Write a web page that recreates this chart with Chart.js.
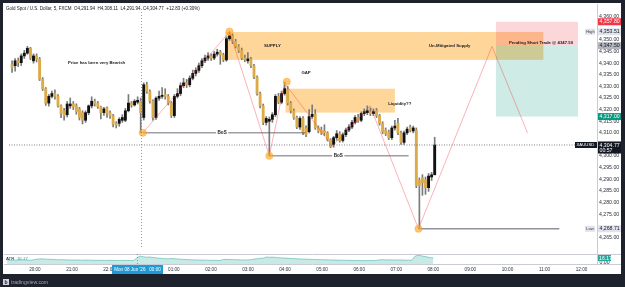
<!DOCTYPE html>
<html>
<head>
<meta charset="utf-8">
<title>Gold Spot / U.S. Dollar, 5</title>
<script src="https://cdn.jsdelivr.net/npm/chart.js@4.4.1/dist/chart.umd.min.js"></script>
<style>
  html, body { margin: 0; padding: 0; }
  body { width: 625px; height: 287px; background: #1e222d; position: relative; overflow: hidden; }
  #panel { position: absolute; left: 3px; top: 3px; width: 618px; height: 271px; background: #fff; }
  canvas { position: absolute; }
  #main { left: 4px; top: 4px; }
  #atr { left: 4px; top: 254px; }
  #footer { left: 0; top: 274px; }
</style>
</head>
<body>
<div id="panel"></div>
<canvas id="main" width="617" height="250"></canvas>
<canvas id="atr" width="617" height="20"></canvas>
<canvas id="footer" width="625" height="13"></canvas>
<script>
// 5 minute candles, one slot per bar (slot 0 = first bar on screen)
const openPrices = [
  4339.3, 4338.9, 4341.0, 4340.2, 4343.1, 4344.3, 4346.4, 4341.0, 4343.1, 4341.8,
  4333.1, 4329.0, 4322.8, 4325.7, 4326.9, 4325.7, 4321.6, 4319.5, 4317.8, 4321.6,
  4322.4, 4321.6, 4320.3, 4318.7, 4315.4, 4318.7, 4321.6, 4323.6, 4322.8, 4321.2,
  4318.7, 4320.7, 4318.7, 4317.4, 4314.1, 4314.1, 4315.4, 4315.4, 4319.5, 4322.8,
  4322.0, 4323.2, 4323.6, 4316.6, 4330.7, 4327.8, 4323.6, 4316.6, 4324.9, 4325.7,
  4326.5, 4325.7, 4322.8, 4317.4, 4325.7, 4326.9, 4330.3, 4331.5, 4330.7, 4333.5,
  4335.6, 4336.9, 4338.9, 4341.0, 4342.2, 4343.1, 4342.2, 4343.9, 4344.7, 4343.5,
  4341.4, 4350.5, 4351.7, 4349.3, 4347.2, 4345.5, 4342.2, 4341.0, 4341.8, 4338.9,
  4334.0, 4326.9, 4321.6, 4314.5, 4315.0, 4315.8, 4317.8, 4325.7, 4323.2, 4326.9,
  4328.6, 4322.8, 4319.5, 4316.6, 4312.5, 4316.2, 4312.1, 4310.5, 4317.0, 4318.0,
  4312.1, 4311.2, 4310.8, 4310.0, 4307.1, 4305.0, 4307.9, 4309.6, 4306.7, 4309.2,
  4311.2, 4312.5, 4314.5, 4316.6, 4315.4, 4318.3, 4318.7, 4319.1, 4318.3, 4319.5,
  4317.4, 4314.1, 4311.2, 4310.4, 4307.9, 4312.1, 4314.1, 4310.0, 4305.9, 4310.0,
  4312.5, 4310.8, 4311.2, 4289.5, 4290.6, 4289.8, 4286.4, 4291.0, 4291.94
];
const highPrices = [
  4341.0, 4342.0, 4342.2, 4344.0, 4345.5, 4347.2, 4346.8, 4344.0, 4344.0, 4342.5,
  4333.8, 4329.5, 4326.5, 4328.0, 4328.5, 4326.5, 4322.0, 4320.5, 4323.5, 4325.0,
  4323.5, 4322.5, 4321.0, 4319.5, 4319.5, 4322.0, 4325.5, 4324.5, 4323.5, 4321.5,
  4321.0, 4321.2, 4319.5, 4318.0, 4314.8, 4316.5, 4317.8, 4320.5, 4326.5, 4323.5,
  4324.3, 4325.5, 4325.0, 4331.5, 4331.8, 4328.5, 4324.2, 4325.5, 4328.0, 4329.5,
  4329.0, 4326.5, 4323.5, 4326.5, 4329.0, 4331.5, 4333.5, 4333.0, 4334.5, 4337.0,
  4338.0, 4340.0, 4342.0, 4343.5, 4344.5, 4344.0, 4345.0, 4346.0, 4345.5, 4344.3,
  4351.3, 4353.51, 4352.6, 4350.3, 4348.0, 4346.5, 4343.5, 4344.5, 4342.5, 4339.5,
  4334.5, 4327.5, 4322.4, 4317.0, 4316.8, 4318.7, 4326.5, 4327.0, 4328.0, 4331.9,
  4330.0, 4323.5, 4320.3, 4317.2, 4317.0, 4317.0, 4313.0, 4320.0, 4322.0, 4320.0,
  4313.0, 4312.5, 4313.5, 4310.5, 4307.5, 4308.5, 4311.0, 4310.5, 4310.0, 4312.0,
  4313.5, 4315.4, 4317.4, 4318.0, 4319.0, 4320.3, 4321.6, 4320.7, 4320.3, 4320.5,
  4318.0, 4314.8, 4312.1, 4311.2, 4312.9, 4315.4, 4316.2, 4310.8, 4310.8, 4312.5,
  4313.3, 4312.9, 4312.1, 4290.6, 4292.0, 4291.0, 4292.5, 4293.0, 4308.11
];
const lowPrices = [
  4336.0, 4336.5, 4338.5, 4339.0, 4342.0, 4343.8, 4341.5, 4340.0, 4340.5, 4332.5,
  4328.2, 4321.8, 4321.5, 4325.0, 4324.5, 4321.0, 4316.5, 4315.5, 4316.8, 4320.5,
  4320.0, 4318.0, 4315.5, 4313.8, 4314.5, 4317.8, 4320.7, 4321.5, 4320.5, 4316.0,
  4317.5, 4316.6, 4316.2, 4312.5, 4312.1, 4312.8, 4314.5, 4314.8, 4319.0, 4321.0,
  4321.5, 4322.4, 4310.0, 4315.5, 4327.0, 4322.8, 4315.5, 4315.8, 4324.0, 4324.8,
  4324.5, 4322.0, 4316.6, 4316.6, 4325.0, 4326.0, 4329.5, 4329.5, 4329.8, 4332.8,
  4334.5, 4336.0, 4338.0, 4340.2, 4341.2, 4341.2, 4341.5, 4343.0, 4339.5, 4340.6,
  4340.8, 4349.8, 4348.4, 4346.5, 4344.5, 4341.5, 4340.6, 4340.0, 4338.0, 4333.3,
  4326.2, 4320.7, 4313.5, 4313.3, 4300.1, 4314.5, 4317.0, 4322.5, 4322.5, 4326.2,
  4322.0, 4318.5, 4315.8, 4311.8, 4311.5, 4309.2, 4308.4, 4310.0, 4316.2, 4311.5,
  4310.0, 4309.2, 4308.8, 4306.5, 4303.6, 4303.8, 4306.8, 4306.0, 4306.0, 4308.4,
  4310.5, 4311.8, 4313.8, 4314.5, 4314.8, 4317.4, 4317.8, 4317.4, 4317.4, 4316.6,
  4313.3, 4309.6, 4308.8, 4307.1, 4307.1, 4311.2, 4309.2, 4305.0, 4305.0, 4309.2,
  4310.4, 4310.0, 4286.4, 4268.71, 4283.1, 4283.5, 4284.8, 4289.5, 4291.94
];
const closePrices = [
  4338.1, 4341.0, 4340.2, 4343.1, 4344.3, 4346.4, 4342.2, 4343.1, 4341.8, 4333.1,
  4329.0, 4322.8, 4325.7, 4326.9, 4325.7, 4321.6, 4318.3, 4317.4, 4322.4, 4322.4,
  4321.2, 4319.1, 4316.6, 4315.4, 4318.7, 4321.6, 4323.6, 4322.4, 4321.2, 4318.7,
  4320.3, 4318.3, 4317.4, 4313.7, 4313.3, 4315.8, 4316.6, 4319.5, 4322.8, 4322.0,
  4323.6, 4324.0, 4318.7, 4330.7, 4327.8, 4323.6, 4316.6, 4324.9, 4325.7, 4326.1,
  4325.7, 4322.8, 4317.4, 4325.7, 4326.9, 4330.3, 4331.5, 4330.7, 4333.5, 4335.6,
  4336.9, 4338.9, 4341.0, 4342.2, 4343.1, 4342.2, 4343.9, 4344.7, 4343.5, 4341.4,
  4350.5, 4351.7, 4349.3, 4347.2, 4345.5, 4342.2, 4341.4, 4341.8, 4338.9, 4334.0,
  4326.9, 4321.6, 4314.5, 4316.2, 4315.8, 4317.8, 4325.7, 4323.2, 4326.9, 4329.0,
  4322.8, 4319.5, 4316.6, 4312.5, 4316.2, 4310.0, 4309.2, 4317.0, 4318.0, 4312.1,
  4310.8, 4310.0, 4310.0, 4307.1, 4304.2, 4307.9, 4309.6, 4306.7, 4309.2, 4311.2,
  4312.5, 4314.5, 4316.6, 4315.4, 4318.3, 4319.1, 4319.5, 4318.3, 4319.1, 4317.4,
  4314.1, 4310.4, 4309.6, 4307.9, 4312.1, 4312.9, 4310.0, 4305.9, 4310.0, 4311.6,
  4311.2, 4312.1, 4287.3, 4287.3, 4288.5, 4286.4, 4291.4, 4291.94, 4304.77
];
// ATR pane
const atrValues = [
  10.8, 10.5, 10.2, 10.6, 10.9, 11.3, 11.0, 10.6, 10.3,
  12.4, 13.2, 13.9, 13.5,
  13.0, 12.6, 12.2, 11.8, 11.4, 11.6, 11.2, 10.9, 10.6, 10.9,
  10.7, 10.3, 10.5, 10.8, 10.4, 10.0, 9.8, 10.1, 9.9, 9.6,
  10.0, 9.8, 9.5, 9.3, 9.6, 9.9, 9.5, 9.3, 9.7,
  16.5, 21.5, 19.8, 18.4, 19.0, 17.9, 16.8, 15.9, 15.0,
  14.4, 13.8, 15.0, 14.3, 13.6, 13.0, 12.5, 12.0, 11.6, 11.3,
  11.0, 10.8, 10.6, 10.4, 10.2, 10.0, 9.9, 9.8, 9.6,
  12.0, 12.6, 12.2, 11.9, 11.6, 11.4, 11.1, 10.9, 11.0, 11.8,
  13.2, 14.4, 15.4, 15.8,
  19.0, 18.0, 18.6, 17.6, 17.0, 16.5, 16.0,
  15.4, 14.9, 14.4, 14.0, 13.7, 13.3, 13.0, 12.6, 12.4, 12.1,
  11.8, 11.5, 11.3, 11.1, 10.9, 10.7, 10.5, 10.3, 10.1, 10.0,
  9.8, 9.7, 9.6, 9.4, 9.3, 9.2, 9.3, 9.4, 9.6, 10.2,
  11.8, 11.3, 11.0, 11.2, 10.9, 10.7, 11.0, 10.8, 10.5, 10.3, 10.1,
  20.5, 24.0, 22.4, 20.6, 19.0, 17.5, 16.17
];

// time axis
const hourSlots = [9, 21, 33, 54, 66, 78, 90, 102, 114, 126, 138, 150, 162, 174, 186];
const hourLabels = ['20:00', '21:00', '22:00', '01:00', '02:00', '03:00', '04:00', '05:00',
  '06:00', '07:00', '08:00', '09:00', '10:00', '11:00', '12:00'];
const crosshairSlot = 42;
const crosshairLabel = "Mon 08 Jun '26   00:00";

// price axis
const priceTicks = [4360, 4350, 4345, 4340, 4335, 4330, 4325, 4320, 4315, 4310,
  4300, 4295, 4290, 4285, 4280, 4275, 4265];
const axisTagPrices = [4357.80, 4353.51, 4347.50, 4317.00, 4304.77, 4268.71];
const countdown = '00:57';

// drawings (slot, price)
const swingSlots = [42.7, 71, 84, 89, 104.6, 116.9, 132.7, 156.7, 168.3];
const swingPrices = [4310.0, 4353.51, 4300.1, 4331.4, 4304.2, 4321.6, 4268.71, 4347.2, 4310.0];
const dotSlots = [42.7, 71, 84, 89.7, 132.7];
const dotPrices = [4310.0, 4353.6, 4300.1, 4332.0, 4268.71];
const bosFrom = [42.7, 84];
const bosTo = [95.8, 129.5];
const bosPrices = [4310.0, 4300.1];
const bosLabelSlots = [68.6, 106.5];
const lowLine = [132.7, 178.7];
const supplyZone = [69.6, 173.5, 4341.4, 4353.4];
const liquidityZone = [89.3, 125.0, 4318.7, 4329.0];
const positionSlots = [158, 184.8];
const entryPrice = 4347.50, stopPrice = 4357.80, targetPrice = 4317.00;
const noteTexts = ['Price has been very Bearish', 'SUPPLY', 'GAP', 'Liquidity??',
  'Un-Mitigated Supply', 'Pending Short Trade @ 4347.50'];
const noteSlots = [27.6, 85.0, 96.0, 126.6, 142.9, 172.7];
const notePrices = [4340.2, 4347.3, 4336.0, 4322.3, 4347.3, 4348.8];

const FONT = '"Liberation Sans", Arial, sans-serif';
Chart.defaults.font.family = FONT;
const fmt = v => v.toLocaleString('en-US', { minimumFractionDigits: 2, maximumFractionDigits: 2 });
const last = closePrices.length - 1;

const tagFill = ['#f23645', '#e0e3eb', '#b2b5be', '#089981', '#131722', '#e0e3eb'];
const tagInk = ['#ffffff', '#131722', '#131722', '#ffffff', '#ffffff', '#131722'];

function fillZone(chart, z, color) {
  const { x, y } = chart.scales;
  const l = x.getPixelForValue(z[0]), r = x.getPixelForValue(z[1]);
  const t = y.getPixelForValue(z[3]), b = y.getPixelForValue(z[2]);
  chart.ctx.fillStyle = color;
  chart.ctx.fillRect(l, t, r - l, b - t);
}

const mainOverlay = {
  id: 'mainOverlay',
  beforeDatasetsDraw(chart) {
    const { ctx, chartArea: a } = chart;
    ctx.save();
    ctx.beginPath();
    ctx.rect(a.left, a.top, a.right - a.left, a.bottom - a.top);
    ctx.clip();
    fillZone(chart, supplyZone, 'rgba(255,152,0,0.4)');
    fillZone(chart, liquidityZone, 'rgba(255,152,0,0.4)');
    fillZone(chart, [positionSlots[0], positionSlots[1], entryPrice, stopPrice], 'rgba(242,54,69,0.2)');
    fillZone(chart, [positionSlots[0], positionSlots[1], targetPrice, entryPrice], 'rgba(8,153,129,0.2)');
    ctx.restore();
  },
  afterDatasetsDraw(chart) {
    const { ctx, scales: { x, y } } = chart;
    ctx.save();
    ctx.textAlign = 'center';
    ctx.textBaseline = 'middle';
    ctx.font = 'bold 4.3px ' + FONT;
    ctx.fillStyle = '#1a1a1a';
    noteTexts.forEach((t, i) => {
      ctx.fillText(t, x.getPixelForValue(noteSlots[i]), y.getPixelForValue(notePrices[i]));
    });
    // BoS labels sit on their lines
    ctx.font = 'bold 4.6px ' + FONT;
    bosLabelSlots.forEach((s, i) => {
      const px = x.getPixelForValue(s), py = y.getPixelForValue(bosPrices[i]);
      const w = ctx.measureText('BoS').width + 3;
      ctx.fillStyle = '#ffffff';
      ctx.fillRect(px - w / 2, py - 3, w, 6);
      ctx.fillStyle = '#1a1a1a';
      ctx.fillText('BoS', px, py);
    });
    ctx.restore();
  },
  afterDraw(chart) {
    const { ctx, chartArea: a, scales: { x, y } } = chart;
    ctx.save();
    // crosshair
    const cx = Math.round(x.getPixelForValue(crosshairSlot)) + 0.5;
    ctx.strokeStyle = 'rgba(38,166,154,0.8)';
    ctx.lineWidth = 1;
    ctx.setLineDash([1, 2]);
    ctx.beginPath(); ctx.moveTo(cx, a.top); ctx.lineTo(cx, a.bottom); ctx.stroke();
    ctx.setLineDash([]);
    // price scale divider
    ctx.strokeStyle = '#c9ccd3';
    ctx.beginPath(); ctx.moveTo(a.right + 0.5, 0); ctx.lineTo(a.right + 0.5, chart.height); ctx.stroke();
    // legend line
    const chg = closePrices[last] - closePrices[last - 1];
    const title = 'Gold Spot / U.S. Dollar, 5, FXCM  O' + fmt(openPrices[last]) + '  H' + fmt(highPrices[last]) +
      '  L' + fmt(lowPrices[last]) + '  C' + fmt(closePrices[last]) + '  +' + chg.toFixed(2) +
      ' (+' + (chg / closePrices[last - 1] * 100).toFixed(2) + '%)';
    ctx.font = '4.5px ' + FONT;
    ctx.textAlign = 'left';
    ctx.textBaseline = 'middle';
    ctx.fillStyle = '#131722';
    ctx.fillText(title, 2, 4.5);
    // price tags
    ctx.font = '5.2px ' + FONT;
    axisTagPrices.forEach((p, i) => {
      const ty = y.getPixelForValue(p);
      const h = i === 4 ? 12 : 7;
      ctx.fillStyle = tagFill[i];
      ctx.fillRect(a.right + 1, ty - 3.5, 23, h);
      ctx.fillStyle = tagInk[i];
      ctx.fillText(fmt(p), a.right + 2.5, ty + 0.2);
      if (i === 4) ctx.fillText(countdown, a.right + 2.5, ty + 5.4);
    });
    // side labels
    ctx.font = '4.3px ' + FONT;
    [[1, 'High'], [5, 'Low']].forEach(([i, t]) => {
      const ty = y.getPixelForValue(axisTagPrices[i]);
      ctx.fillStyle = '#e0e3eb';
      ctx.fillRect(a.right - 12, ty - 3, 10, 6);
      ctx.fillStyle = '#434651';
      ctx.fillText(t, a.right - 11, ty + 0.2);
    });
    const sy = y.getPixelForValue(closePrices[last]);
    ctx.fillStyle = '#131722';
    ctx.fillRect(a.right - 22, sy - 3, 22, 6);
    ctx.fillStyle = '#ffffff';
    ctx.fillText('XAUUSD', a.right - 20.5, sy + 0.2);
    ctx.restore();
  }
};

const candleColors = closePrices.map((c, i) => c >= openPrices[i] ? '#111111' : '#dcaa46');
const lineSet = (pts, color, width, extra) => Object.assign({
  type: 'line', data: pts, borderColor: color, borderWidth: width,
  pointRadius: 0, tension: 0, fill: false
}, extra || {});

const mainDatasets = [
  { type: 'bar', data: lowPrices.map((l, i) => ({ x: i, y: [l, highPrices[i]] })),
    backgroundColor: '#7a7a7a', barThickness: 1, grouped: false, order: 6 },
  { type: 'bar', data: openPrices.map((o, i) => ({ x: i, y: [o, closePrices[i]] })),
    backgroundColor: candleColors, barThickness: 2.2, minBarLength: 1, grouped: false, order: 5 },
  lineSet([{ x: -1, y: closePrices[last] }, { x: 191, y: closePrices[last] }], '#5d606b', 0.8,
    { borderDash: [1, 1.5], order: 4 }),
  lineSet([{ x: lowLine[0], y: lowPrices[133] }, { x: lowLine[1], y: lowPrices[133] }], '#8f929b', 1.6, { order: 3 }),
  lineSet(swingSlots.map((s, i) => ({ x: s, y: swingPrices[i] })), 'rgba(242,54,69,0.55)', 0.7, { order: 1 }),
  lineSet(dotSlots.map((s, i) => ({ x: s, y: dotPrices[i] })), 'rgba(0,0,0,0)', 0,
    { showLine: false, pointRadius: 3.6, pointBackgroundColor: 'rgba(255,167,38,0.65)',
      pointBorderColor: 'rgba(255,152,0,0.35)', pointBorderWidth: 1, order: 0 })
];
bosFrom.forEach((f, i) => {
  mainDatasets.push(lineSet([{ x: f, y: bosPrices[i] }, { x: bosTo[i], y: bosPrices[i] }], '#5d606b', 0.9, { order: 2 }));
});

const common = {
  responsive: false,
  devicePixelRatio: 1,
  animation: false,
  events: [],
  layout: { padding: 0 },
  plugins: { legend: { display: false }, tooltip: { enabled: false } }
};

new Chart(document.getElementById('main'), {
  type: 'bar',
  data: { datasets: mainDatasets },
  options: Object.assign({}, common, {
    scales: {
      x: { type: 'linear', min: -1, max: 191, offset: false, display: false },
      y: {
        position: 'right', min: 4260, max: 4363.3,
        afterBuildTicks: s => { s.ticks = priceTicks.map(v => ({ value: v })); },
        afterFit: s => { s.width = 24; s.paddingTop = 0; s.paddingBottom = 0; },
        grid: { display: false, drawTicks: false },
        border: { display: false },
        ticks: { padding: 2, color: '#2a2e39', font: { size: 5.2 }, callback: v => fmt(v) }
      }
    }
  }),
  plugins: [mainOverlay]
});

const atrOverlay = {
  id: 'atrOverlay',
  afterDraw(chart) {
    const { ctx, chartArea: a, scales: { x, y } } = chart;
    ctx.save();
    ctx.strokeStyle = '#c9ccd3';
    ctx.lineWidth = 1;
    ctx.beginPath();
    ctx.moveTo(0, 0.5); ctx.lineTo(chart.width, 0.5);
    ctx.moveTo(0, a.bottom + 0.5); ctx.lineTo(chart.width, a.bottom + 0.5);
    ctx.moveTo(a.right + 0.5, 0); ctx.lineTo(a.right + 0.5, a.bottom);
    ctx.stroke();
    const cx = Math.round(x.getPixelForValue(crosshairSlot)) + 0.5;
    ctx.strokeStyle = 'rgba(38,166,154,0.8)';
    ctx.setLineDash([1, 2]);
    ctx.beginPath(); ctx.moveTo(cx, 0); ctx.lineTo(cx, a.bottom); ctx.stroke();
    ctx.setLineDash([]);
    // legend
    const atrLast = atrValues[atrValues.length - 1];
    ctx.font = '4.4px ' + FONT;
    ctx.textBaseline = 'middle';
    ctx.textAlign = 'left';
    ctx.fillStyle = '#131722';
    ctx.fillText('ATR', 2, 5);
    ctx.fillStyle = '#26a69a';
    ctx.fillText(atrLast.toFixed(2), 2 + ctx.measureText('ATR  ').width, 5);
    // scale
    ctx.font = '5.2px ' + FONT;
    ctx.fillStyle = '#2a2e39';
    ctx.fillText('0.00', a.right + 2.5, a.bottom - 1);
    const ty = y.getPixelForValue(atrLast);
    ctx.fillStyle = '#26a69a';
    ctx.fillRect(a.right + 1, ty - 3, 13, 6);
    ctx.fillStyle = '#ffffff';
    ctx.fillText(atrLast.toFixed(2), a.right + 2, ty + 0.2);
    // crosshair time label
    ctx.font = '4.6px ' + FONT;
    const w = 51;
    ctx.fillStyle = '#1e9bd7';
    ctx.fillRect(cx - w / 2, a.bottom + 1, w, 9);
    ctx.fillStyle = '#ffffff';
    ctx.textAlign = 'center';
    ctx.fillText(crosshairLabel, cx, a.bottom + 5.6);
    ctx.restore();
  }
};

new Chart(document.getElementById('atr'), {
  type: 'line',
  data: {
    datasets: [{
      data: atrValues.map((v, i) => ({ x: i, y: v })),
      borderColor: 'rgba(38,166,154,0.6)', borderWidth: 0.8,
      backgroundColor: 'rgba(38,166,154,0.25)', fill: 'origin',
      pointRadius: 0, tension: 0
    }]
  },
  options: Object.assign({}, common, {
    scales: {
      x: {
        type: 'linear', min: -1, max: 191, offset: false,
        afterBuildTicks: s => { s.ticks = hourSlots.map(v => ({ value: v })); },
        afterFit: s => { s.height = 10; s.paddingLeft = 0; s.paddingRight = 0; },
        grid: { display: false, drawTicks: false },
        border: { display: false },
        ticks: { padding: 2.5, maxRotation: 0, autoSkip: false, color: '#2a2e39',
          font: { size: 4.6 }, callback: (v, i) => hourLabels[i] }
      },
      y: {
        position: 'right', min: 0, max: 27,
        afterFit: s => { s.width = 24; s.paddingTop = 0; s.paddingBottom = 0; },
        grid: { display: false, drawTicks: false },
        border: { display: false },
        ticks: { display: false }
      }
    }
  }),
  plugins: [atrOverlay]
});

// footer strip
const f = document.getElementById('footer').getContext('2d');
f.fillStyle = '#1e222d';
f.fillRect(0, 0, 625, 13);
f.fillStyle = '#d1d4dc';
f.fillRect(3, 5, 6, 6);
f.fillStyle = '#1e222d';
f.font = 'bold 5px ' + FONT;
f.textBaseline = 'middle';
f.fillText('b', 4.4, 8.2);
f.fillStyle = '#a3a6af';
f.font = '5.2px ' + FONT;
f.fillText('tradingview.com', 11, 8.5);
</script>
</body>
</html>
